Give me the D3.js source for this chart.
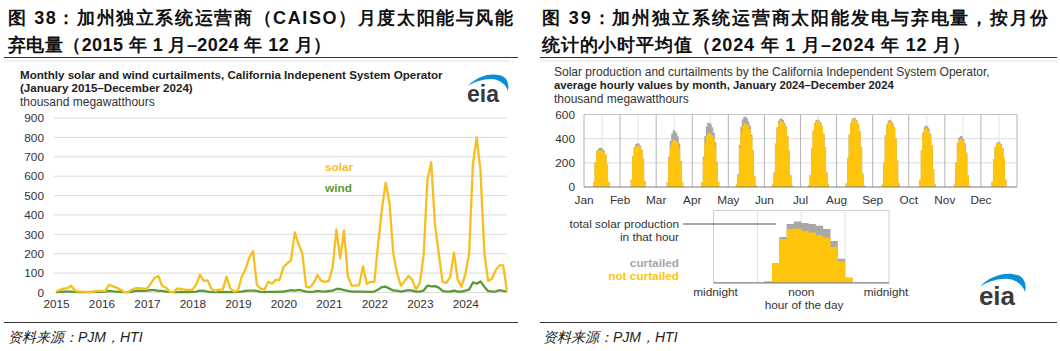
<!DOCTYPE html>
<html><head><meta charset="utf-8">
<script src="https://cdn.jsdelivr.net/npm/d3@7"></script>
<style>
body{margin:0;background:#fff;}
svg{display:block;}
text{font-family:"Liberation Sans",Arial,sans-serif;}
</style></head><body>
<svg id="c" width="1060" height="351"></svg>
<script>
// ---------- data: left chart ----------
const yearLabels = ["2015","2016","2017","2018","2019","2020","2021","2022","2023","2024"];
const leftTicks = [0,100,200,300,400,500,600,700,800,900];
const solar = [
  5,12,20,22,35,10,5,5,3,3,5,8,
  8,8,40,32,25,15,3,2,15,22,22,20,
  20,45,75,85,35,25,5,2,20,18,15,12,
  15,40,92,60,62,20,8,15,15,82,20,5,
  10,80,120,180,213,40,20,15,55,45,65,65,
  130,150,165,310,250,200,30,25,50,90,60,55,
  60,130,325,175,320,85,35,35,38,135,45,55,
  55,250,430,567,460,200,100,35,60,85,65,15,
  50,190,580,672,350,200,55,50,80,205,65,30,
  95,200,660,800,630,210,60,70,115,140,140,5
];
const wind = [
  2,3,5,5,5,3,2,2,2,2,3,3,
  3,5,8,6,5,3,2,2,5,8,10,8,
  10,12,12,8,8,5,3,2,2,3,2,2,
  3,5,10,8,5,3,2,2,2,3,2,2,
  3,5,8,10,10,8,3,2,3,3,3,5,
  5,8,12,10,14,10,5,3,5,8,6,5,
  8,10,18,18,12,8,5,5,5,5,3,3,
  5,15,28,30,20,10,10,5,8,12,10,5,
  5,10,35,32,33,25,8,5,5,10,5,5,
  10,15,52,45,57,30,8,5,5,12,8,5
];

// ---------- data: right chart ----------
const monthLabels = ["Jan","Feb","Mar","Apr","May","Jun","Jul","Aug","Sep","Oct","Nov","Dec"];
const rightTicks = [0,200,400,600];
const hourStart = [6,7,7,6,5,5,5,6,6,7,6,7];
const notCurtailed = [
  [40,200,285,300,305,305,300,290,265,190,40],
  [60,250,320,340,345,340,330,300,230,50],
  [40,230,330,370,390,390,380,360,320,200,40],
  [40,230,360,420,445,445,440,425,400,340,200,40],
  [20,100,320,450,505,525,525,520,505,480,420,300,90,15],
  [20,120,350,480,530,547,547,540,520,490,420,300,100,15],
  [15,100,320,460,520,545,550,545,530,500,440,330,120,20],
  [30,240,430,520,555,562,560,550,520,460,330,110,15],
  [20,200,420,505,535,540,535,520,490,400,220,30],
  [60,300,440,480,490,485,470,430,340,150,20],
  [20,200,350,390,400,395,380,350,280,100,10],
  [40,230,330,360,368,365,350,320,240,60]
];
const curtailed = [
  [0,5,10,15,20,20,15,10,5,0,0],
  [0,5,10,15,18,20,15,10,5,0],
  [0,20,50,70,80,75,70,60,40,15,0],
  [0,20,60,80,88,85,80,70,50,30,10,0],
  [0,5,30,50,55,58,55,50,40,30,15,5,0,0],
  [0,2,10,15,18,20,18,15,10,8,5,2,0,0],
  [0,0,5,8,10,10,8,5,5,5,2,0,0,0],
  [0,2,5,8,10,10,8,5,3,2,0,0,0],
  [0,2,8,12,15,15,12,8,5,3,0,0],
  [0,5,12,18,20,18,15,10,5,0,0],
  [0,5,15,20,22,22,18,12,5,0,0],
  [0,2,4,5,7,7,5,3,2,0]
];
const insetStart = 7;
const insetNotCurtailed = [5,58,128,158,160,153,148,140,133,105,63,15];
const insetCurtailed    = [0,0,7,15,20,23,25,28,25,18,8,0];

// ---------- colours ----------
const SOLAR = "#F7BE1E", WIND = "#5B9A32", BAR = "#FFC40C", GRAY = "#A8A8A8";

const svg = d3.select("#c");

// ---------- titles ----------
function cjk(x, y, str, len, size, opts={}) {
  const t = svg.append("text").attr("x", x).attr("y", y).text(str)
    .attr("font-family", '"Noto Sans CJK SC", sans-serif')
    .attr("font-size", size).attr("fill", "#111");
  if (opts.bold !== false) t.attr("font-weight", 700);
  if (len) t.attr("textLength", len).attr("lengthAdjust", "spacing");
  if (opts.italic) t.attr("font-style", "italic").attr("font-weight", 400).attr("fill", "#222");
  return t;
}
cjk(8, 24, "图 38：加州独立系统运营商（CAISO）月度太阳能与风能", 505, 18);
cjk(8, 51, "弃电量（2015 年 1 月–2024 年 12 月）", 323, 18);
cjk(542, 24, "图 39：加州独立系统运营商太阳能发电与弃电量，按月份", 506, 18);
cjk(542, 51, "统计的小时平均值（2024 年 1 月–2024 年 12 月）", 428, 18);

svg.append("line").attr("x1",4).attr("x2",518).attr("y1",57.5).attr("y2",57.5).attr("stroke","#333").attr("stroke-width",1.2);
svg.append("line").attr("x1",540).attr("x2",1057).attr("y1",57.5).attr("y2",57.5).attr("stroke","#333").attr("stroke-width",1.2);
svg.append("line").attr("x1",4).attr("x2",518).attr("y1",322.5).attr("y2",322.5).attr("stroke","#333").attr("stroke-width",1.2);
svg.append("line").attr("x1",540).attr("x2",1057).attr("y1",322.5).attr("y2",322.5).attr("stroke","#333").attr("stroke-width",1.2);
// faint image borders
svg.append("line").attr("x1",4).attr("x2",510).attr("y1",61).attr("y2",61).attr("stroke","#e4e4e4");
svg.append("line").attr("x1",540).attr("x2",1055).attr("y1",61).attr("y2",61).attr("stroke","#e4e4e4");

cjk(8, 342, "资料来源：PJM，HTI", null, 14, {italic:true});
cjk(543, 342, "资料来源：PJM，HTI", null, 14, {italic:true});

// ---------- eia logos ----------
function logo(x, y, s) {
  const g = svg.append("g").attr("transform", `translate(${x},${y}) scale(${s})`);
  g.append("path")
    .attr("d","M0,12 C8,3 24,-3 36,3 C40,6 41,11 40,17 C38,11 33,6 24,5 C14,5 6,8 0,12 Z")
    .attr("fill","#0a8fd6");
  g.append("text").attr("x",-1).attr("y",28).text("eia")
    .attr("font-size",23).attr("font-weight",700).attr("fill","#3a3a3a");
}
logo(468, 74, 1);
logo(980, 273, 1.13);

// ---------- left chart ----------
const L = svg.append("g");
L.append("text").attr("x",20).attr("y",78.5).text("Monthly solar and wind curtailments, California Indepenent System Operator")
  .attr("font-size",11.6).attr("font-weight",700).attr("fill","#222");
L.append("text").attr("x",20).attr("y",92).text("(January 2015–December 2024)")
  .attr("font-size",11.6).attr("font-weight",700).attr("fill","#222");
L.append("text").attr("x",20).attr("y",105.5).text("thousand megawatthours")
  .attr("font-size",12).attr("fill","#333");

const xL = d3.scaleLinear().domain([0, solar.length-1]).range([56, 507]);
const yL = d3.scaleLinear().domain([0, 900]).range([292.5, 118]);

L.append("g").selectAll("line").data(leftTicks).join("line")
  .attr("x1",54).attr("x2",507).attr("y1",d=>yL(d)).attr("y2",d=>yL(d))
  .attr("stroke","#dcdcdc").attr("stroke-width",1);

const yAxisL = L.append("g").attr("transform","translate(44,0)")
  .call(d3.axisLeft(yL).tickValues(leftTicks).tickSize(0).tickPadding(0));
yAxisL.select(".domain").remove();
yAxisL.selectAll("text").attr("font-size",11.8).attr("fill","#333").attr("font-family",'"Liberation Sans",Arial,sans-serif');

const xAxisL = L.append("g").attr("transform","translate(0,300)")
  .call(d3.axisBottom(xL).tickValues(yearLabels.map((d,i)=>i*12)).tickFormat((d,i)=>yearLabels[i]).tickSize(0).tickPadding(0));
xAxisL.select(".domain").remove();
xAxisL.selectAll("text").attr("font-size",11.8).attr("fill","#333").attr("font-family",'"Liberation Sans",Arial,sans-serif');

const lineL = d3.line().x((d,i)=>xL(i)).y(d=>yL(d));
L.append("path").datum(wind).attr("d",lineL).attr("fill","none").attr("stroke",WIND).attr("stroke-width",2.3).attr("stroke-linejoin","round");
L.append("path").datum(solar).attr("d",lineL).attr("fill","none").attr("stroke",SOLAR).attr("stroke-width",2.3).attr("stroke-linejoin","round");

L.append("text").attr("x",325).attr("y",171).text("solar").attr("font-size",11.8).attr("font-weight",700).attr("fill",SOLAR);
L.append("text").attr("x",325).attr("y",192).text("wind").attr("font-size",11.8).attr("font-weight",700).attr("fill",WIND);

// ---------- right chart ----------
const R = svg.append("g");
R.append("text").attr("x",554).attr("y",76).text("Solar production and curtailments by the California Independent System Operator,")
  .attr("font-size",12).attr("fill","#333");
R.append("text").attr("x",554).attr("y",89).text("average hourly values by month, January 2024–December 2024")
  .attr("font-size",11.3).attr("font-weight",700).attr("fill","#222");
R.append("text").attr("x",554).attr("y",102.5).text("thousand megawatthours")
  .attr("font-size",12).attr("fill","#333");

const xM = d3.scaleBand().domain(monthLabels).range([584, 1017]).padding(0);
const bw = xM.bandwidth();
const xH = d3.scaleLinear().domain([0,24]).range([0,bw]);
const yR = d3.scaleLinear().domain([0,600]).range([187, 114.5]);

// horizontal grid
R.append("g").selectAll("line").data(rightTicks.slice(1,3)).join("line")
  .attr("x1",584).attr("x2",1017).attr("y1",d=>yR(d)).attr("y2",d=>yR(d)).attr("stroke","#dedede");
// noon lines
R.append("g").selectAll("line").data(monthLabels).join("line")
  .attr("x1",d=>xM(d)+xH(12)).attr("x2",d=>xM(d)+xH(12)).attr("y1",yR(600)).attr("y2",yR(0)).attr("stroke","#e2e2e2");
// panel borders
R.append("g").selectAll("line").data(monthLabels.concat(["_end"])).join("line")
  .attr("x1",(d,i)=>584+i*bw).attr("x2",(d,i)=>584+i*bw).attr("y1",yR(600)).attr("y2",yR(0)).attr("stroke","#b4b4b4");
R.append("line").attr("x1",584).attr("x2",1017).attr("y1",yR(600)).attr("y2",yR(600)).attr("stroke","#c4c4c4");

const stepArea = (xs, ys) => d3.area().x(d=>xs(d.h)).y0(ys(0)).y1(d=>ys(d.v)).curve(d3.curveStepAfter);
monthLabels.forEach((m, mi) => {
  const s = hourStart[mi];
  const tot = notCurtailed[mi].map((v,i)=>({h:s+i, v:v+curtailed[mi][i]}));
  const nc = notCurtailed[mi].map((v,i)=>({h:s+i, v:v}));
  tot.push({h:s+tot.length, v:0}); nc.push({h:s+nc.length, v:0});
  const xs = h => xM(m) + xH(h);
  R.append("path").attr("d", stepArea(xs, yR)(tot)).attr("fill", GRAY);
  R.append("path").attr("d", stepArea(xs, yR)(nc)).attr("fill", BAR);
});
R.append("line").attr("x1",584).attr("x2",1017).attr("y1",yR(0)).attr("y2",yR(0)).attr("stroke","#7a7a7a").attr("stroke-width",1.2);

const yAxisR = R.append("g").attr("transform","translate(575,0)")
  .call(d3.axisLeft(yR).tickValues(rightTicks).tickSize(0).tickPadding(0));
yAxisR.select(".domain").remove();
yAxisR.selectAll("text").attr("font-size",11.8).attr("fill","#333").attr("font-family",'"Liberation Sans",Arial,sans-serif');

R.append("g").selectAll("text").data(monthLabels).join("text")
  .attr("x",d=>xM(d)).attr("y",204).attr("text-anchor","middle").text(d=>d)
  .attr("font-size",11.8).attr("fill","#333");

// ---------- inset ----------
const xI = d3.scaleLinear().domain([0,24]).range([713.5, 889]);
const yI = d3.scaleLinear().domain([0,213]).range([282.8, 210.4]);
R.append("rect").attr("x",xI(0)).attr("y",yI(213)).attr("width",xI(24)-xI(0)).attr("height",yI(0)-yI(213))
  .attr("fill","none").attr("stroke","#cfcfcf");
R.append("g").selectAll("line").data([6,12,18]).join("line")
  .attr("x1",d=>xI(d)).attr("x2",d=>xI(d)).attr("y1",yI(213)).attr("y2",yI(0)).attr("stroke","#e0e0e0");
const iTot = insetNotCurtailed.map((v,i)=>({h:insetStart+i, v:v+insetCurtailed[i]}));
const iNc = insetNotCurtailed.map((v,i)=>({h:insetStart+i, v:v}));
iTot.push({h:insetStart+iTot.length, v:0}); iNc.push({h:insetStart+iNc.length, v:0});
R.append("path").attr("d", stepArea(xI, yI)(iTot)).attr("fill", GRAY);
R.append("path").attr("d", stepArea(xI, yI)(iNc)).attr("fill", BAR);
R.append("line").attr("x1",xI(0)).attr("x2",xI(24)).attr("y1",yI(0)).attr("y2",yI(0)).attr("stroke","#8a8a8a").attr("stroke-width",1.2);

R.append("line").attr("x1",683).attr("x2",776).attr("y1",224).attr("y2",224).attr("stroke","#555");
R.append("text").attr("x",679).attr("y",228).attr("text-anchor","end").text("total solar production").attr("font-size",11.8).attr("fill","#333");
R.append("text").attr("x",679).attr("y",241).attr("text-anchor","end").text("in that hour").attr("font-size",11.8).attr("fill","#333");
R.append("text").attr("x",679).attr("y",267).attr("text-anchor","end").text("curtailed").attr("font-size",11.8).attr("font-weight",700).attr("fill",GRAY);
R.append("text").attr("x",679).attr("y",280).attr("text-anchor","end").text("not curtailed").attr("font-size",11.8).attr("font-weight",700).attr("fill",BAR);

const iLab = [{h:0,t:"midnight"},{h:12,t:"noon"},{h:24,t:"midnight"}];
R.append("g").selectAll("text").data(iLab).join("text")
  .attr("x",d=>xI(d.h)+ (d.h===0?2:(d.h===24?-3:0))).attr("y",296).attr("text-anchor","middle").text(d=>d.t)
  .attr("font-size",11.8).attr("fill","#333");
R.append("text").attr("x",804).attr("y",309).attr("text-anchor","middle").text("hour of the day").attr("font-size",11.8).attr("fill","#333");
</script>
</body></html>
